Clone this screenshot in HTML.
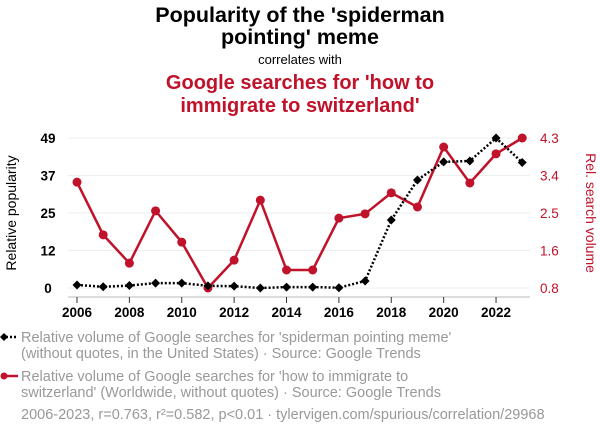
<!DOCTYPE html>
<html><head><meta charset="utf-8"><style>
body{margin:0;background:#fff;width:600px;height:436px;overflow:hidden;font-family:"Liberation Sans",sans-serif}
</style></head><body>
<svg id="chart" width="600" height="436" xmlns="http://www.w3.org/2000/svg" font-family="Liberation Sans, sans-serif">
<text x="300" y="22" text-anchor="middle" font-size="21.5" font-weight="bold" fill="#000">Popularity of the 'spiderman</text>
<text x="300" y="44" text-anchor="middle" font-size="21.5" font-weight="bold" fill="#000">pointing' meme</text>
<text x="300" y="64" text-anchor="middle" font-size="13" fill="#000">correlates with</text>
<text x="300" y="89" text-anchor="middle" font-size="20" font-weight="bold" fill="#c0122a">Google searches for 'how to</text>
<text x="300" y="112" text-anchor="middle" font-size="20" font-weight="bold" fill="#c0122a">immigrate to switzerland'</text>
<g id="grid"></g><g id="axes"></g><g id="series"></g>
<text transform="translate(16,213) rotate(-90)" text-anchor="middle" font-size="14" fill="#000">Relative popularity</text>
<text transform="translate(586,213) rotate(90)" text-anchor="middle" font-size="14" fill="#c0122a">Rel. search volume</text>
<g>
<line x1="2" y1="337" x2="18" y2="337" stroke="#000" stroke-width="2.5" stroke-dasharray="2,2"/>
<path d="M4,333 L8,337 L4,341 L0,337Z" fill="#000"/>
<text x="21" y="342" font-size="14.5" fill="#999">Relative volume of Google searches for 'spiderman pointing meme'</text>
<text x="21" y="358" font-size="14.5" fill="#999">(without quotes, in the United States) · Source: Google Trends</text>
</g>
<g>
<line x1="2" y1="376" x2="18" y2="376" stroke="#c0122a" stroke-width="2.5"/>
<circle cx="4" cy="376" r="3.5" fill="#c0122a"/>
<text x="21" y="381" font-size="14.5" fill="#999">Relative volume of Google searches for 'how to immigrate to</text>
<text x="21" y="397" font-size="14.5" fill="#999">switzerland' (Worldwide, without quotes) · Source: Google Trends</text>
</g>
<text x="21" y="419" font-size="14.5" fill="#999">2006-2023, r=0.763, r²=0.582, p&lt;0.01 · tylervigen.com/spurious/correlation/29968</text>
</svg>
<script>
const years=[2006,2007,2008,2009,2010,2011,2012,2013,2014,2015,2016,2017,2018,2019,2020,2021,2022,2023];
const spiderman=[1.0,0.4,0.8,1.6,1.6,0.7,0.6,0,0.3,0.3,0.1,2.3,22.2,35.3,41.2,41.5,49,41];
const switzerland=[3.27,2.04,1.38,2.6,1.87,0.8,1.45,2.85,1.22,1.22,2.43,2.53,3.02,2.69,4.09,3.25,3.93,4.3];
const leftTicks=[0,12,25,37,49];
const rightTicks=["0.8","1.6","2.5","3.4","4.3"];
const xTicks=[2006,2008,2010,2012,2014,2016,2018,2020,2022];
const NS="http://www.w3.org/2000/svg";
const x=v=>77+(v-2006)*26.19;
const yL=v=>288-v/49*150;
const yR=v=>288-(v-0.8)/3.5*150;
function mk(t,a,p){const e=document.createElementNS(NS,t);for(const k in a)e.setAttribute(k,a[k]);p.appendChild(e);return e;}
const grid=document.getElementById('grid'),axes=document.getElementById('axes'),ser=document.getElementById('series');
leftTicks.forEach((t,i)=>{const y=288-i*37.5;
 const g=mk('line',{x1:68,x2:530,y1:y,y2:y,stroke:'#eee','stroke-width':1},grid);
 
 const a=mk('text',{x:48,y:y+5,'text-anchor':'middle','font-size':13.5,'font-weight':'bold',fill:'#000'},axes);a.textContent=t;
 
 const b=mk('text',{x:540,y:y+5,'font-size':13.5,fill:'#c0122a'},axes);b.textContent=rightTicks[i];
 });
const ax=mk('line',{x1:68,x2:530,y1:297,y2:297,stroke:'#bbb','stroke-width':1},axes);

xTicks.forEach(t=>{mk('line',{x1:x(t),x2:x(t),y1:297,y2:303,stroke:'#333'},axes);
 const l=mk('text',{x:x(t),y:317,'text-anchor':'middle','font-size':13.5,'font-weight':'bold',fill:'#000'},axes);l.textContent=t;
 });
const rl=mk('polyline',{points:years.map((v,i)=>x(v)+','+yR(switzerland[i])).join(' '),fill:'none',stroke:'#c0122a','stroke-width':2.5},ser);

years.forEach((v,i)=>{const c=mk('circle',{cx:x(v),cy:yR(switzerland[i]),r:4.5,fill:'#c0122a'},ser);
 });
const bl=mk('polyline',{points:years.map((v,i)=>x(v)+','+yL(spiderman[i])).join(' '),fill:'none',stroke:'#000','stroke-width':2.5,'stroke-dasharray':'2,2'},ser);

years.forEach((v,i)=>{const cx=x(v),cy=yL(spiderman[i]);
 const p=mk('path',{d:`M${cx},${cy-4.5}L${cx+4.5},${cy}L${cx},${cy+4.5}L${cx-4.5},${cy}Z`,fill:'#000'},ser);
 });
</script>
</body></html>
